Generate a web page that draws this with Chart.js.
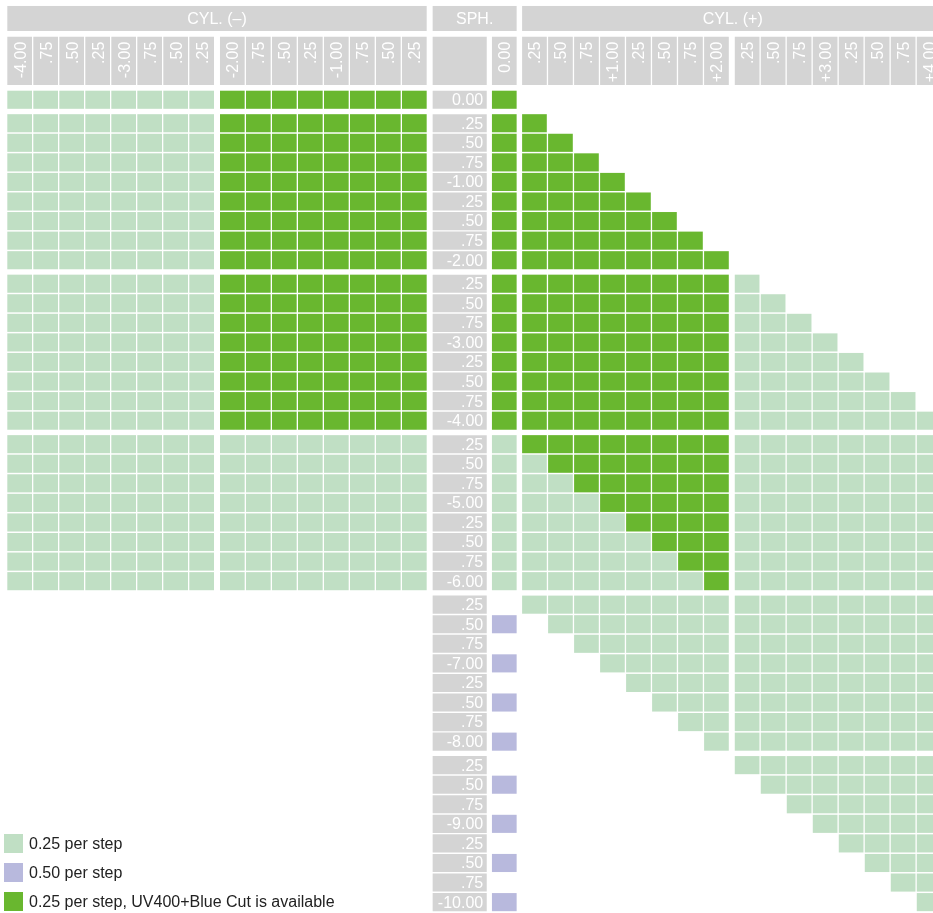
<!DOCTYPE html>
<html>
<head>
<meta charset="utf-8">
<title>Lens range</title>
<script src="https://cdn.jsdelivr.net/npm/chart.js@4.4.1/dist/chart.umd.min.js"></script>
<style>
  body { margin: 0; background: #fff; font-family: "Liberation Sans", Arial, sans-serif; }
  #wrap { position: relative; width: 933px; height: 913px; overflow: hidden; }
  #legend { position: absolute; left: 4px; top: 829px; }
  .item { display: flex; align-items: center; height: 29px; font-size: 16px; color: #222; }
  .sw { width: 19px; height: 19px; margin-right: 6px; flex: none; }
</style>
</head>
<body>
<div id="wrap">
  <canvas id="grid" width="933" height="913"></canvas>
  <div id="legend"></div>
</div>
<script>
// column headings
const cylMinus = ['-4.00', '.75', '.50', '.25', '-3.00', '.75', '.50', '.25',
                  '-2.00', '.75', '.50', '.25', '-1.00', '.75', '.50', '.25'];
const cylZero = ['0.00'];
const cylPlus = ['.25', '.50', '.75', '+1.00', '.25', '.50', '.75', '+2.00',
                 '.25', '.50', '.75', '+3.00', '.25', '.50', '.75', '+4.00'];
const bandTitles = ['CYL. (\u2013)', 'SPH.', 'CYL. (+)'];

// row headings
const sph = ['0.00',
  '.25', '.50', '.75', '-1.00', '.25', '.50', '.75', '-2.00',
  '.25', '.50', '.75', '-3.00', '.25', '.50', '.75', '-4.00',
  '.25', '.50', '.75', '-5.00', '.25', '.50', '.75', '-6.00',
  '.25', '.50', '.75', '-7.00', '.25', '.50', '.75', '-8.00',
  '.25', '.50', '.75', '-9.00', '.25', '.50', '.75', '-10.00'];

// one string per SPH row: 16 CYL(-) | 0.00 | 16 CYL(+)
// L = 0.25 per step, P = 0.50 per step, G = UV400+Blue Cut, . = not made
const availability = [
  'LLLLLLLL GGGGGGGG G ........ ........',
  'LLLLLLLL GGGGGGGG G G....... ........',
  'LLLLLLLL GGGGGGGG G GG...... ........',
  'LLLLLLLL GGGGGGGG G GGG..... ........',
  'LLLLLLLL GGGGGGGG G GGGG.... ........',
  'LLLLLLLL GGGGGGGG G GGGGG... ........',
  'LLLLLLLL GGGGGGGG G GGGGGG.. ........',
  'LLLLLLLL GGGGGGGG G GGGGGGG. ........',
  'LLLLLLLL GGGGGGGG G GGGGGGGG ........',
  'LLLLLLLL GGGGGGGG G GGGGGGGG L.......',
  'LLLLLLLL GGGGGGGG G GGGGGGGG LL......',
  'LLLLLLLL GGGGGGGG G GGGGGGGG LLL.....',
  'LLLLLLLL GGGGGGGG G GGGGGGGG LLLL....',
  'LLLLLLLL GGGGGGGG G GGGGGGGG LLLLL...',
  'LLLLLLLL GGGGGGGG G GGGGGGGG LLLLLL..',
  'LLLLLLLL GGGGGGGG G GGGGGGGG LLLLLLL.',
  'LLLLLLLL GGGGGGGG G GGGGGGGG LLLLLLLL',
  'LLLLLLLL LLLLLLLL L GGGGGGGG LLLLLLLL',
  'LLLLLLLL LLLLLLLL L LGGGGGGG LLLLLLLL',
  'LLLLLLLL LLLLLLLL L LLGGGGGG LLLLLLLL',
  'LLLLLLLL LLLLLLLL L LLLGGGGG LLLLLLLL',
  'LLLLLLLL LLLLLLLL L LLLLGGGG LLLLLLLL',
  'LLLLLLLL LLLLLLLL L LLLLLGGG LLLLLLLL',
  'LLLLLLLL LLLLLLLL L LLLLLLGG LLLLLLLL',
  'LLLLLLLL LLLLLLLL L LLLLLLLG LLLLLLLL',
  '........ ........ . LLLLLLLL LLLLLLLL',
  '........ ........ P .LLLLLLL LLLLLLLL',
  '........ ........ . ..LLLLLL LLLLLLLL',
  '........ ........ P ...LLLLL LLLLLLLL',
  '........ ........ . ....LLLL LLLLLLLL',
  '........ ........ P .....LLL LLLLLLLL',
  '........ ........ . ......LL LLLLLLLL',
  '........ ........ P .......L LLLLLLLL',
  '........ ........ . ........ LLLLLLLL',
  '........ ........ P ........ .LLLLLLL',
  '........ ........ . ........ ..LLLLLL',
  '........ ........ P ........ ...LLLLL',
  '........ ........ . ........ ....LLLL',
  '........ ........ P ........ .....LLL',
  '........ ........ . ........ ......LL',
  '........ ........ P ........ .......L',
];

const legendCodes = ['L', 'P', 'G'];
const legendLabels = ['0.25 per step', '0.50 per step', '0.25 per step, UV400+Blue Cut is available'];

const colors = { L: '#c0dfc4', P: '#b8b9dd', G: '#69b72f', grey: '#d4d4d4' };

// layout in grid units (x: one column, y: one row)
const GAP = 0.18;
const CELL_W = 0.95, CELL_H = 0.925;
const LABEL_LEFT = 16.36, LABEL_W = 2.08;
const HEAD_TOP = -2.76, HEAD_BOTTOM = -0.29;
const BAND_TOP = -4.33, BAND_BOTTOM = -3.05;

const colLeft = [
  ...cylMinus.map((_, i) => i + (i >= 8 ? GAP : 0)),
  18.64,
  ...cylPlus.map((_, i) => 19.8 + i + (i >= 8 ? GAP : 0)),
];
const colLabels = [...cylMinus, ...cylZero, ...cylPlus];
const rowTop = (r) => r === 0 ? 0 : r + (Math.floor((r - 1) / 8) + 1) * 0.2;

const bands = [
  { text: bandTitles[0], from: 0, to: 16 + GAP - 0.05 },
  { text: bandTitles[1], from: LABEL_LEFT, to: 19.59 },
  { text: bandTitles[2], from: 19.8, to: 36.2 },
];

const cellsFor = (code) => {
  const out = [];
  availability.forEach((row, r) => {
    [...row.replace(/ /g, '')].forEach((c, k) => {
      if (c === code) out.push({ x: colLeft[k] + CELL_W / 2, y: [rowTop(r), rowTop(r) + CELL_H] });
    });
  });
  return out;
};

const headCells = colLeft.map((u) => ({ x: u + CELL_W / 2, y: [HEAD_TOP, HEAD_BOTTOM] }));
const labelCells = [
  { x: LABEL_LEFT + LABEL_W / 2, y: [HEAD_TOP, HEAD_BOTTOM] },
  ...sph.map((_, r) => ({ x: LABEL_LEFT + LABEL_W / 2, y: [rowTop(r), rowTop(r) + CELL_H] })),
];

const cellSet = (data, color, width) => ({
  data,
  backgroundColor: color,
  borderWidth: 0,
  grouped: false,
  barPercentage: width,
  categoryPercentage: 1,
});

const textPlugin = {
  id: 'sheetText',
  beforeDatasetsDraw(chart) {
    const { ctx, scales: { x, y } } = chart;
    ctx.save();
    ctx.fillStyle = colors.grey;
    const t = y.getPixelForValue(BAND_TOP), b = y.getPixelForValue(BAND_BOTTOM);
    bands.forEach((band) => {
      const l = x.getPixelForValue(band.from), r = x.getPixelForValue(band.to);
      ctx.fillRect(l, t, r - l, b - t);
    });
    ctx.restore();
  },
  afterDatasetsDraw(chart) {
    const { ctx, scales: { x, y } } = chart;
    ctx.save();
    ctx.fillStyle = '#fff';
    ctx.font = '16px "Liberation Sans", Arial, sans-serif';

    // band titles
    ctx.textAlign = 'center';
    ctx.textBaseline = 'middle';
    const bandMid = y.getPixelForValue((BAND_TOP + BAND_BOTTOM) / 2) + 1;
    bands.forEach((band) => {
      const cx = (x.getPixelForValue(band.from) + x.getPixelForValue(Math.min(band.to, 36.0))) / 2;
      ctx.fillText(band.text, cx, bandMid);
    });

    // column headings, rotated
    colLabels.forEach((txt, k) => {
      ctx.save();
      ctx.translate(x.getPixelForValue(colLeft[k] + CELL_W / 2) + 1.5, y.getPixelForValue(HEAD_TOP) + 5);
      ctx.rotate(-Math.PI / 2);
      ctx.textAlign = 'right';
      ctx.textBaseline = 'middle';
      ctx.fillText(txt, 0, 0);
      ctx.restore();
    });

    // SPH row labels
    ctx.textAlign = 'right';
    ctx.textBaseline = 'middle';
    const rx = x.getPixelForValue(LABEL_LEFT + LABEL_W) - 3.5;
    sph.forEach((txt, r) => {
      ctx.fillText(txt, rx, y.getPixelForValue(rowTop(r) + CELL_H / 2) + 1);
    });
    ctx.restore();
  },
};

new Chart(document.getElementById('grid'), {
  type: 'bar',
  data: {
    datasets: [
      cellSet(headCells, colors.grey, CELL_W),
      cellSet(labelCells, colors.grey, LABEL_W),
      cellSet(cellsFor('L'), colors.L, CELL_W),
      cellSet(cellsFor('P'), colors.P, CELL_W),
      cellSet(cellsFor('G'), colors.G, CELL_W),
    ],
  },
  options: {
    responsive: false,
    animation: false,
    events: [],
    layout: { padding: 0 },
    plugins: { legend: { display: false }, tooltip: { enabled: false } },
    scales: {
      x: {
        type: 'linear',
        display: false,
        offset: false,
        min: -7.3 / 26,
        max: (933 - 7.3) / 26,
        afterBuildTicks: (axis) => { axis.ticks = axis.ticks.slice(0, 1); },
      },
      y: {
        type: 'linear',
        display: false,
        reverse: true,
        min: -90.7 / 19.57,
        max: (913 - 90.7) / 19.57,
      },
    },
  },
  plugins: [textPlugin],
});

// legend
const legend = document.getElementById('legend');
legendCodes.forEach((code, i) => {
  const item = document.createElement('div');
  item.className = 'item';
  const sw = document.createElement('span');
  sw.className = 'sw';
  sw.style.background = colors[code];
  const label = document.createElement('span');
  label.textContent = legendLabels[i];
  item.append(sw, label);
  legend.appendChild(item);
});
</script>
</body>
</html>
